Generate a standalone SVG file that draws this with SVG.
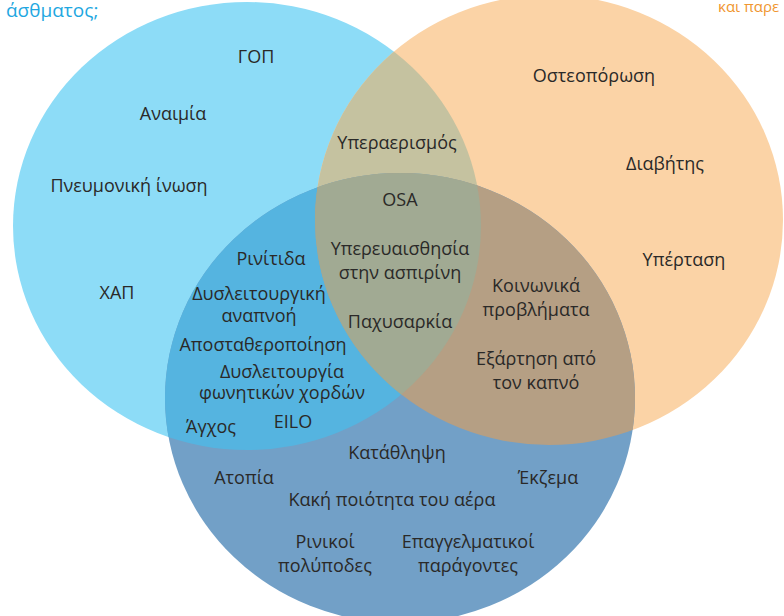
<svg xmlns="http://www.w3.org/2000/svg" xmlns:xlink="http://www.w3.org/1999/xlink" width="784" height="616" viewBox="0 0 784 616">
<defs>
<style>
text{font-family:"Open Sans","Noto Sans","DejaVu Sans",sans-serif;font-size:18px;fill:#2a2928;text-anchor:middle}
.head1{fill:#1ea7e1;font-size:19px;text-anchor:start}
.head2{fill:#f0962f;font-size:15px;text-anchor:start}
</style>
<ellipse id="eA" cx="247" cy="226" rx="234" ry="224"/>
<ellipse id="eB" cx="400" cy="398" rx="235" ry="225"/>
<ellipse id="eC" cx="549" cy="220" rx="234" ry="225"/>
<clipPath id="cA"><use xlink:href="#eA"/></clipPath>
<clipPath id="cB"><use xlink:href="#eB"/></clipPath>
<clipPath id="cC"><use xlink:href="#eC"/></clipPath>
</defs>
<rect width="784" height="616" fill="#ffffff"/>
<g id="circles">
<use xlink:href="#eA" fill="#8ddcf7"/>
<use xlink:href="#eC" fill="#fbd3a6"/>
<use xlink:href="#eB" fill="#72a0c7"/>
<use xlink:href="#eC" fill="#c5c2a0" clip-path="url(#cA)"/>
<use xlink:href="#eB" fill="#55b4e0" clip-path="url(#cA)"/>
<use xlink:href="#eB" fill="#b59f84" clip-path="url(#cC)"/>
<g clip-path="url(#cC)"><use xlink:href="#eB" fill="#a1aa93" clip-path="url(#cA)"/></g>
</g>
<g id="headings">
<text class="head1" x="6" y="17">άσθματος;</text>
<text class="head2" x="718" y="12">και παρε</text>
</g>
<g id="set-a">
<text x="256" y="63">ΓΟΠ</text>
<text x="173" y="120">Αναιμία</text>
<text x="129" y="192">Πνευμονική ίνωση</text>
<text x="117" y="299">ΧΑΠ</text>
</g>
<g id="set-ac">
<text x="397" y="149">Υπεραερισμός</text>
</g>
<g id="set-abc">
<text x="400" y="206">OSA</text>
<text x="400" y="255">Υπερευαισθησία</text>
<text x="400" y="279">στην ασπιρίνη</text>
<text x="400" y="328">Παχυσαρκία</text>
</g>
<g id="set-ab">
<text x="271" y="265">Ρινίτιδα</text>
<text x="259" y="300">Δυσλειτουργική</text>
<text x="259" y="322">αναπνοή</text>
<text x="263" y="351">Αποσταθεροποίηση</text>
<text x="282" y="378">Δυσλειτουργία</text>
<text x="282" y="399">φωνητικών χορδών</text>
<text x="211" y="433">Άγχος</text>
<text x="293" y="428">EILO</text>
</g>
<g id="set-b">
<text x="397" y="459">Κατάθληψη</text>
<text x="244" y="484">Ατοπία</text>
<text x="548" y="484">Έκζεμα</text>
<text x="392" y="506">Κακή ποιότητα του αέρα</text>
<text x="325" y="548">Ρινικοί</text>
<text x="325" y="572">πολύποδες</text>
<text x="468" y="548">Επαγγελματικοί</text>
<text x="468" y="572">παράγοντες</text>
</g>
<g id="set-c">
<text x="594" y="82">Οστεοπόρωση</text>
<text x="665" y="170">Διαβήτης</text>
<text x="684" y="266">Υπέρταση</text>
</g>
<g id="set-bc">
<text x="536" y="292">Κοινωνικά</text>
<text x="536" y="316">προβλήματα</text>
<text x="536" y="365">Εξάρτηση από</text>
<text x="536" y="389">τον καπνό</text>
</g>
<g id="connectors"/>
</svg>
